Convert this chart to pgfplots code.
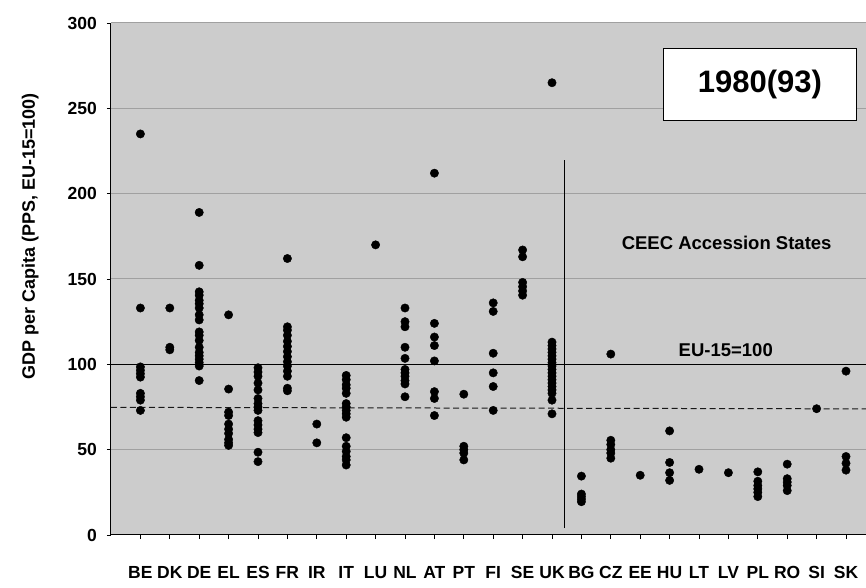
\documentclass[border=0pt]{standalone}
\usepackage{fontspec}
\setmainfont{Liberation Sans}
\usepackage{pgfplots}
\pgfplotsset{compat=1.18}

\definecolor{plotbg}{RGB}{204,204,204}
\definecolor{gridgray}{RGB}{160,160,160}

\begin{document}
\begin{tikzpicture}
\begin{axis}[
  scale only axis,
  width=755pt, height=512pt,
  at={(0,0)}, anchor=south west,
  xmin=0, xmax=25.68,
  ymin=0, ymax=300,
  axis x line*=bottom,
  axis y line*=left,
  axis line style={-, black, line width=1pt},
  axis background/.style={fill=plotbg},
  ymajorgrids=true,
  major grid style={gridgray, line width=1pt},
  ytick={0,50,...,300},
  xtick={1,2,...,25},
  xticklabels={BE,DK,DE,EL,ES,FR,IR,IT,LU,NL,AT,PT,FI,SE,UK,BG,CZ,EE,HU,LT,LV,PL,RO,SI,SK},
  tick align=outside,
  major tick length=4pt,
  tick style={black, line width=0.8pt},
  /pgf/number format/assume math mode=true,
  x tick label style={font=\bfseries\fontsize{17.5}{19}\selectfont, inner sep=0pt, anchor=north, yshift=-27pt},
  y tick label style={font=\bfseries\fontsize{17.5}{19}\selectfont, inner sep=0pt, anchor=east, xshift=-10pt},
  ylabel={GDP per Capita (PPS, EU-15=100)},
  ylabel style={font=\bfseries\fontsize{18}{20}\selectfont, at={(axis description cs:-0.107,0.583)}, anchor=center},
  clip=false,
]
% reference lines
\addplot[black, line width=1pt] coordinates {(0,100) (25.68,100)};
\addplot[black!90, line width=1pt, dash pattern=on 6pt off 3.5pt] coordinates {(0,74.8) (25.68,73.9)};
\addplot[black, line width=1pt] coordinates {(15.43,4) (15.43,220)};

% regional values
\addplot[only marks, mark=*, mark size=4.2pt, black] coordinates {
 (1,235) (1,133) (1,98.5) (1,96.5) (1,94.5) (1,92.5) (1,83) (1,81) (1,79) (1,73)
 (2,133) (2,110) (2,108.5)
 (3,189) (3,158) (3,142.5) (3,140.5) (3,137.5) (3,135.5) (3,133) (3,129) (3,126)
 (3,119) (3,117) (3,114) (3,110) (3,107) (3,105) (3,103) (3,101) (3,99) (3,90.5)
 (4,129) (4,85.5) (4,72) (4,70) (4,65) (4,62) (4,59.5) (4,56) (4,54) (4,52.5)
 (5,98) (5,95.5) (5,93) (5,89) (5,85) (5,80) (5,77) (5,75) (5,73) (5,67) (5,64.5)
 (5,62) (5,60) (5,48.5) (5,43)
 (6,162) (6,122) (6,120) (6,117) (6,113.5) (6,110.5) (6,107.5) (6,104.5) (6,101.5)
 (6,99) (6,96) (6,93) (6,86) (6,84.5)
 (7,65) (7,54)
 (8,93.5) (8,91) (8,88) (8,86) (8,83) (8,77) (8,75) (8,73) (8,71) (8,69) (8,57)
 (8,52) (8,49) (8,46) (8,44) (8,41)
 (9,170)
 (10,133) (10,125) (10,122) (10,110) (10,103.5) (10,97) (10,95) (10,93) (10,90.5)
 (10,88.5) (10,81)
 (11,212) (11,124) (11,116) (11,111) (11,102) (11,84) (11,80) (11,70)
 (12,82.5) (12,52) (12,50) (12,48) (12,44)
 (13,136) (13,131) (13,106.5) (13,95) (13,87) (13,73)
 (14,167) (14,163) (14,148) (14,145.5) (14,143) (14,140.5)
 (15,265) (15,113) (15,111) (15,109) (15,107) (15,105) (15,103) (15,101) (15,99)
 (15,97) (15,95) (15,93) (15,91) (15,89) (15,87) (15,85) (15,83) (15,79) (15,71)
 (16,34.5) (16,24) (16,22.5) (16,21) (16,19.5)
 (17,106) (17,55.5) (17,53) (17,50) (17,48) (17,45)
 (18,35)
 (19,61) (19,42.5) (19,36.5) (19,32)
 (20,38.5)
 (21,36.5)
 (22,37) (22,31.5) (22,29) (22,27) (22,25) (22,22.5)
 (23,41.5) (23,33) (23,31) (23,29) (23,26)
 (24,74)
 (25,96) (25,46) (25,42) (25,38)
};

\node[font=\bfseries\fontsize{18.5}{20}\selectfont] at (axis cs:20.91,108.5) {EU-15=100};
\node[font=\bfseries\fontsize{18.5}{20}\selectfont] at (axis cs:20.94,170.9) {CEEC Accession States};
\node[draw=black, line width=1pt, fill=white, minimum width=193pt, minimum height=72pt,
      font=\bfseries\fontsize{31}{34}\selectfont] at (axis cs:22.07,264) {1980(93)};
\end{axis}
\pgfresetboundingbox
\path (-111pt,-53pt) rectangle (755pt,535pt);
\end{tikzpicture}
\end{document}
